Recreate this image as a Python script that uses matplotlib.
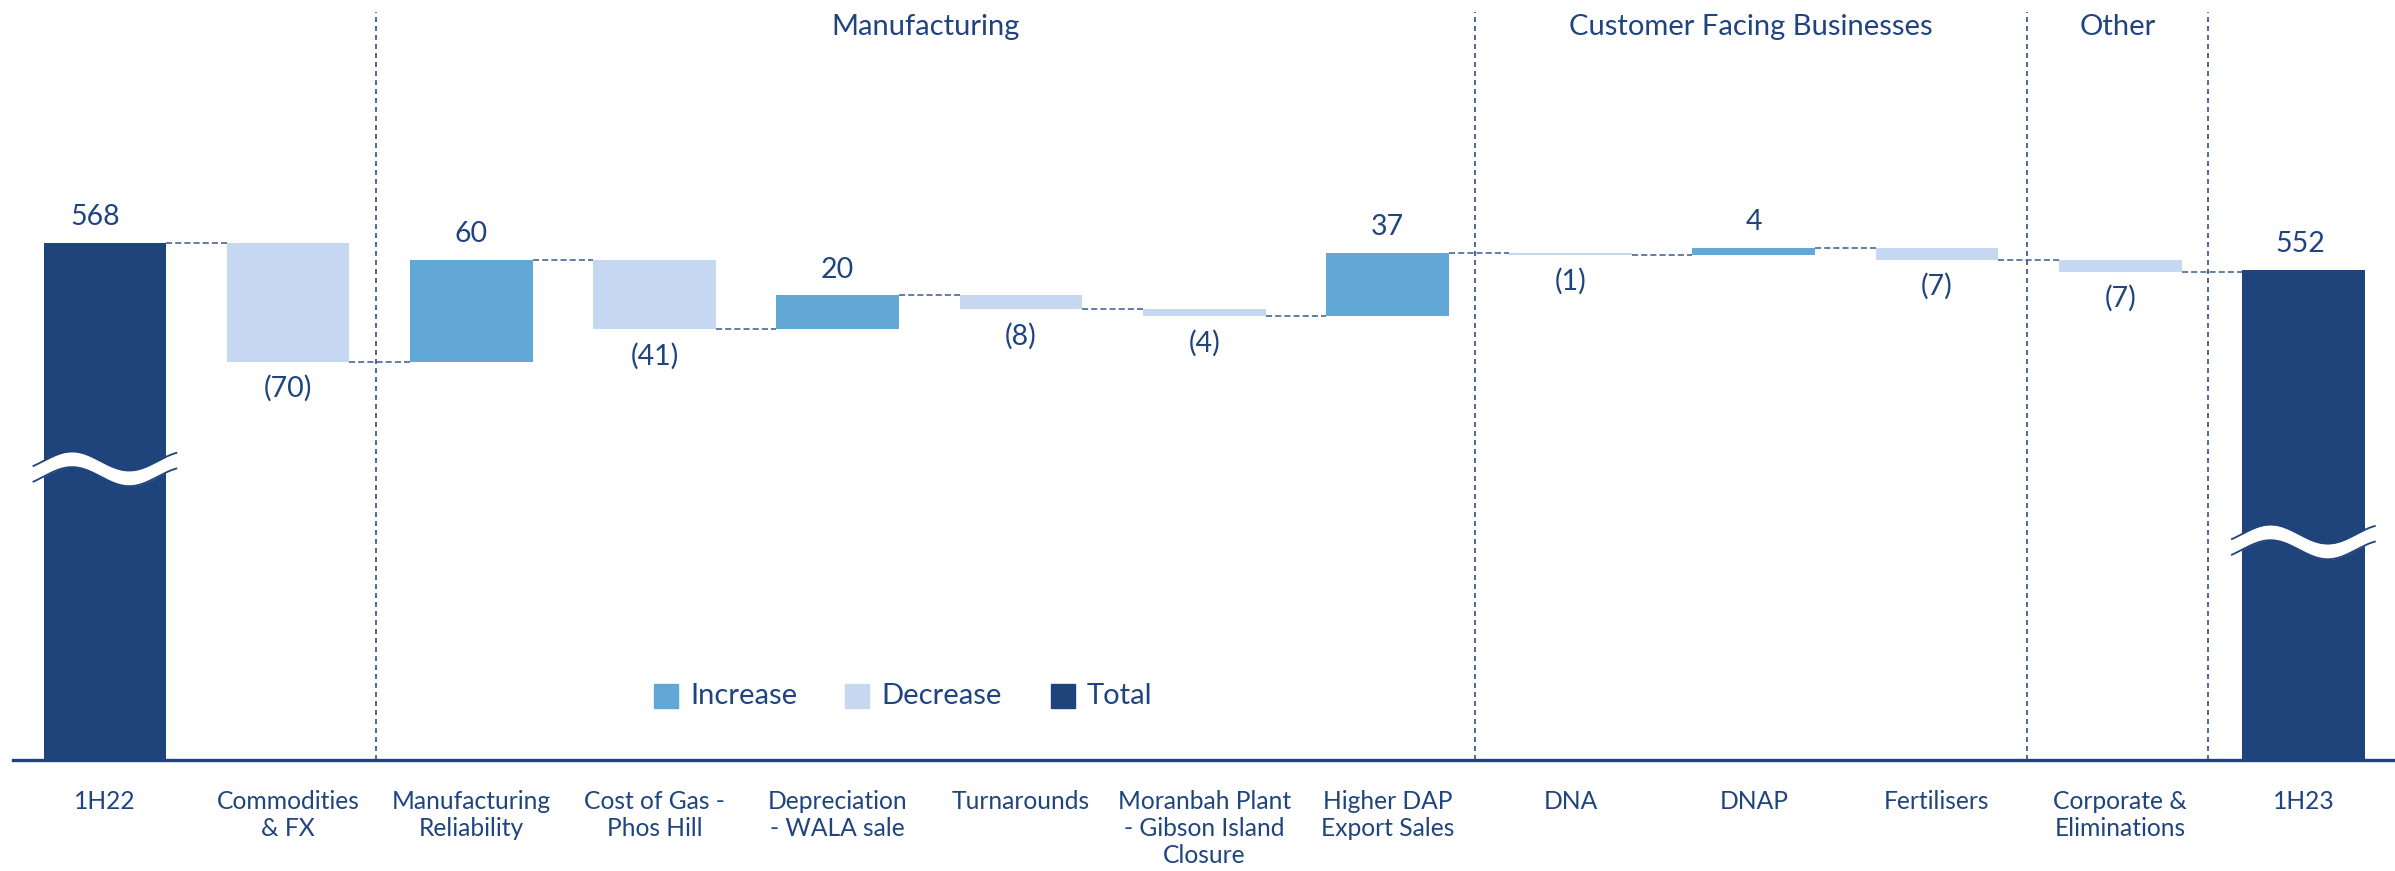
import numpy as np
import matplotlib
matplotlib.use("Agg")
import matplotlib.pyplot as plt
from matplotlib.patches import Rectangle

plt.rcParams['font.family'] = ['Lato', 'DejaVu Sans']

# ---- data ----
categories = ["1H22", "Commodities\n& FX", "Manufacturing\nReliability",
              "Cost of Gas -\nPhos Hill", "Depreciation\n- WALA sale", "Turnarounds",
              "Moranbah Plant\n- Gibson Island\nClosure", "Higher DAP\nExport Sales",
              "DNA", "DNAP", "Fertilisers", "Corporate &\nEliminations", "1H23"]
values = [568, -70, 60, -41, 20, -8, -4, 37, -1, 4, -7, -7, 552]
is_total = [True] + [False] * 11 + [True]
groups = ["Manufacturing", "Customer Facing Businesses", "Other"]
group_spans = [(1.48, 7.48), (7.48, 10.49), (10.49, 11.48)]
legend_labels = ["Increase", "Decrease", "Total"]

# ---- style ----
C_INC = "#62A8D6"
C_DEC = "#C6D8F1"
C_TOT = "#1F447C"
C_TXT = "#1F4480"
C_CONN = "#3A5A8E"
C_SEP = "#2F4F88"

W, H = 2395, 871
fig = plt.figure(figsize=(W / 100, H / 100), dpi=100)
ax_left, ax_base = 13.3, 759.5
ax = fig.add_axes([ax_left / W, (H - ax_base) / H, 1 - ax_left / W, ax_base / H])
ax.set_xlim(-0.5, 12.5)
ax.set_ylim(264, 710.8)

bar_w = 0.67
x = np.arange(len(categories))
# small horizontal nudge (points) for the total labels
total_label_dx = {0: -7.0, len(categories) - 1: -2.0}

# bars
running = 0
ends = []
for i, (v, tot) in enumerate(zip(values, is_total)):
    if tot:
        bottom, height, color = 0, v, C_TOT
        running = v
    else:
        start = running
        running = start + v
        bottom, height = min(start, running), abs(v)
        color = C_INC if v > 0 else C_DEC
    ax.bar(x[i], height, bottom=bottom, width=bar_w, color=color, zorder=2)
    ends.append(running)

    # value labels
    dx = total_label_dx.get(i, 0.0)
    if v >= 0:
        ax.annotate(f"{abs(v)}", (x[i], bottom + height), xytext=(dx, 12.8),
                    textcoords="offset points", ha="center", va="baseline",
                    fontsize=20.5, color=C_TXT)
    else:
        ax.annotate(f"({abs(v)})", (x[i], bottom), xytext=(0, -25.5),
                    textcoords="offset points", ha="center", va="baseline",
                    fontsize=20.5, color=C_TXT)

# dashed connectors between consecutive bars
for i in range(len(categories) - 1):
    lvl = ends[i]
    ax.plot([x[i] + bar_w / 2, x[i + 1] - bar_w / 2], [lvl, lvl], color=C_CONN,
            lw=1.1, ls=(0, (4, 2)), zorder=1)

# section separators and headings
sep_positions = sorted({p for span in group_spans for p in span})
for p in sep_positions:
    ax.axvline(p, ymin=0, ymax=1 - 12 / ax_base, color=C_SEP, lw=1.2,
               ls=(0, (3.0, 2.4)), zorder=1)
for name, (a, b) in zip(groups, group_spans):
    ax.text((a + b) / 2, 1 - 27 / ax_base, name, transform=ax.get_xaxis_transform(),
            ha="center", va="center", fontsize=21, color=C_TXT)

# axis-break marks on the total bars
def draw_break(xc, yc):
    t = np.linspace(0, 1, 200)
    xs = xc + (t - 0.5) * 0.78
    yo = 5.6 * np.cos(2 * np.pi * (t - 0.27) / 0.8)
    half = 4.6
    ax.fill_between(xs, yc + yo - half, yc + yo + half, color="white", lw=0, zorder=3)
    ax.plot(xs, yc + yo + half, color=C_TOT, lw=1.3, zorder=4)
    ax.plot(xs, yc + yo - half, color=C_TOT, lw=1.3, zorder=4)

draw_break(x[0], 435)
draw_break(x[-1], 392)

# axes styling
for s in ["top", "right", "left"]:
    ax.spines[s].set_visible(False)
ax.spines["bottom"].set_color(C_TOT)
ax.spines["bottom"].set_linewidth(2.4)
ax.spines["bottom"].set_zorder(5)
ax.set_yticks([])
ax.set_xticks(x)
ax.set_xticklabels(categories, fontsize=17.7, color=C_TXT, linespacing=1.2)
ax.tick_params(axis="x", length=0, pad=22)

# legend
leg_colors = [C_INC, C_DEC, C_TOT]
leg_sq_x = [654, 845, 1051]
sq = 24
sq_top = 684
for lab, col, px in zip(legend_labels, leg_colors, leg_sq_x):
    fig.patches.append(Rectangle((px / W, (H - sq_top - sq) / H), sq / W, sq / H,
                                 transform=fig.transFigure, color=col, zorder=5))
    fig.text((px + sq + 12) / W, (H - sq_top - sq / 2) / H, lab, ha="left", va="center",
             fontsize=21, color=C_TXT)

fig.savefig("out.png", dpi=100, facecolor="white")
